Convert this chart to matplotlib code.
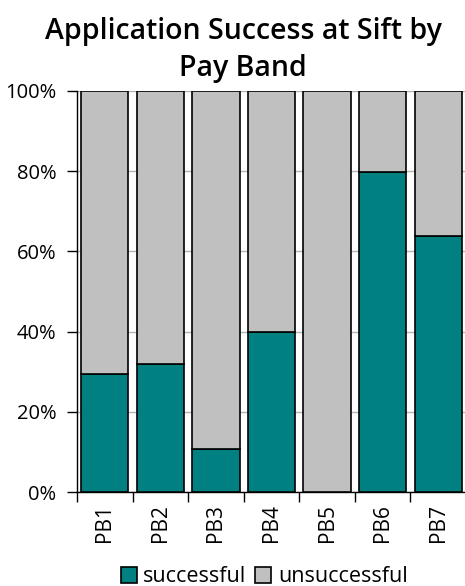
import numpy as np
import matplotlib.pyplot as plt
from matplotlib.ticker import PercentFormatter, FixedLocator

# share of applications at sift, by pay band (%)
pay_bands = ["PB1", "PB2", "PB3", "PB4", "PB5", "PB6", "PB7"]
successful = [29.4, 31.9, 10.7, 39.9, 0.0, 79.8, 63.8]
unsuccessful = [100 - v for v in successful]

teal = "#008080"
grey = "#c0c0c0"

plt.rcParams["font.family"] = ["Open Sans", "DejaVu Sans"]

fig = plt.figure(figsize=(4.65, 5.86), dpi=100)
ax = fig.add_axes([77 / 465, 1 - 492 / 586, 389 / 465, 401 / 586])

x = np.arange(len(pay_bands))
width = 0.85
ax.bar(x, successful, width, color=teal, edgecolor="black", linewidth=1.2,
       label="successful", zorder=3)
ax.bar(x, unsuccessful, width, bottom=successful, color=grey,
       edgecolor="black", linewidth=1.2, label="unsuccessful", zorder=3)

ax.set_xlim(-0.5, len(pay_bands) - 0.5)
ax.set_ylim(0, 100)
ax.set_yticks(np.arange(0, 101, 20))
ax.yaxis.set_major_formatter(PercentFormatter(decimals=0))
ax.grid(axis="y", color="#b4b4b4", linewidth=1, zorder=0)

# category labels centred on bars, tick marks on the boundaries
ax.set_xticks(x)
ax.set_xticklabels(pay_bands, rotation=90, fontsize=15)
ax.tick_params(axis="x", length=0, pad=9)
ax.xaxis.set_minor_locator(FixedLocator(np.arange(-0.5, len(pay_bands), 1)))
ax.tick_params(axis="x", which="minor", length=7, width=1, color="black")
ax.tick_params(axis="y", labelsize=14.5, length=7, width=1, pad=8)

for side in ("top", "right"):
    ax.spines[side].set_visible(False)
ax.spines["left"].set_linewidth(1)
ax.spines["bottom"].set_linewidth(1)

fig.text(0.523, 1 - 50 / 586, "Application Success at Sift by\nPay Band",
         ha="center", va="center", fontsize=20.5, fontweight="semibold",
         linespacing=1.38)

fig.legend(*ax.get_legend_handles_labels(), loc="center",
           bbox_to_anchor=(0.568, 1 - 577 / 586), ncol=2,
           frameon=False, fontsize=15.5, handlelength=0.75, handleheight=0.75,
           handletextpad=0.3, columnspacing=0.4, borderaxespad=0,
           borderpad=0)

fig.savefig("out.png", dpi=100)
